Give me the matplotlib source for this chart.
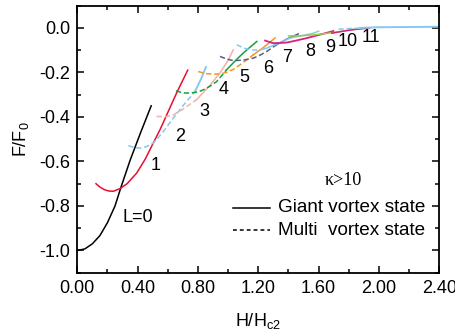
import matplotlib
matplotlib.use("Agg")
import matplotlib.pyplot as plt
from matplotlib.ticker import MultipleLocator, FormatStrFormatter

plt.rcParams['font.family'] = ['Liberation Sans', 'DejaVu Sans']
plt.rcParams['axes.unicode_minus'] = False

# ---- data ----
# L = 0 (giant vortex, black)
l0_x = [0.0, 0.05, 0.10, 0.15, 0.20, 0.25, 0.29, 0.35, 0.42, 0.49]
l0_y = [-1.0, -0.993, -0.97, -0.933, -0.875, -0.80, -0.715, -0.595, -0.47, -0.35]
# L = 1 (red)
l1_x = [0.124, 0.15, 0.18, 0.21, 0.239, 0.283, 0.33, 0.394, 0.45, 0.504, 0.55, 0.60, 0.66, 0.732]
l1_y = [-0.70, -0.715, -0.727, -0.733, -0.734, -0.722, -0.70, -0.652, -0.59, -0.517, -0.455, -0.38, -0.29, -0.19]
# L = 2 (light blue)
l2_mx = [0.338, 0.38, 0.42, 0.46, 0.504, 0.56, 0.637, 0.70, 0.78]
l2_my = [-0.529, -0.538, -0.540, -0.533, -0.517, -0.475, -0.405, -0.35, -0.286]
l2_gx = [0.78, 0.82, 0.853]
l2_gy = [-0.286, -0.23, -0.176]
# L = 3 (pink)
l3_mx = [0.526, 0.593, 0.64, 0.70, 0.79]
l3_my = [-0.398, -0.398, -0.39, -0.365, -0.323]
l3_gx = [0.79, 0.87, 0.946, 1.0, 1.034]
l3_gy = [-0.323, -0.265, -0.203, -0.145, -0.099]
# L = 4 (green)
l4_mx = [0.654, 0.70, 0.747, 0.80, 0.836, 0.88, 0.924, 0.99]
l4_my = [-0.283, -0.292, -0.293, -0.288, -0.278, -0.262, -0.241, -0.188]
l4_gx = [0.99, 1.05, 1.10, 1.19]
l4_gy = [-0.188, -0.146, -0.113, -0.061]
# L = 5 (orange)
l5_mx = [0.802, 0.85, 0.90, 0.95, 0.99, 1.035, 1.079, 1.167]
l5_my = [-0.196, -0.205, -0.208, -0.206, -0.20, -0.186, -0.166, -0.121]
l5_gx = [1.167, 1.24, 1.311]
l5_gy = [-0.121, -0.085, -0.045]
# L = 6 (slate)
l6_mx = [0.946, 0.99, 1.034, 1.10, 1.167, 1.21, 1.256, 1.32]
l6_my = [-0.128, -0.14, -0.147, -0.145, -0.136, -0.123, -0.106, -0.076]
l6_gx = [1.32, 1.39, 1.465]
l6_gy = [-0.076, -0.05, -0.027]
# L = 7 (light blue)
l7_mx = [1.057, 1.11, 1.167, 1.211]
l7_my = [-0.076, -0.092, -0.10, -0.099]
l7_gx = [1.211, 1.256, 1.33, 1.41, 1.49, 1.565, 1.60]
l7_gy = [-0.099, -0.091, -0.07, -0.046, -0.035, -0.024, -0.015]
# L = 8 (magenta)
l8_gx = [1.245, 1.30, 1.388, 1.45, 1.521, 1.60, 1.698]
l8_gy = [-0.057, -0.069, -0.066, -0.057, -0.046, -0.032, -0.014]
# L = 9 (yellow green)
l9_gx = [1.40, 1.465, 1.576, 1.66, 1.742, 1.83]
l9_gy = [-0.036, -0.036, -0.031, -0.024, -0.017, -0.006]
# L = 10 (magenta)
l10_gx = [1.687, 1.75, 1.83, 1.94]
l10_gy = [-0.024, -0.016, -0.008, 0.0]
# L = 11 (light blue)
l11_mx = [1.731, 1.80, 1.875]
l11_my = [-0.006, -0.003, -0.001]
l11_gx = [1.875, 2.0, 2.2, 2.4]
l11_gy = [0.0, 0.003, 0.004, 0.005]

labels = ["1", "2", "3", "4", "5", "6", "7", "8", "9", "10", "11"]
label_x = [0.522, 0.681, 0.84, 0.973, 1.105, 1.264, 1.39, 1.543, 1.675, 1.795, 1.948]
label_y = [-0.62, -0.489, -0.377, -0.278, -0.224, -0.184, -0.135, -0.108, -0.09, -0.063, -0.045]

c_black = "#000000"
c_red = "#e8102e"
c_lblue = "#86c9ef"
c_pink = "#f5b0a8"
c_green = "#16a03c"
c_orange = "#f5961e"
c_slate = "#5b5b88"
c_mag = "#d9207f"
c_yg = "#9ccc3c"

fig = plt.figure(figsize=(4.56, 3.31), dpi=100)
ax = fig.add_axes([0.1695, 0.176, 0.7939, 0.807])

lw = 1.1
dash = (0, (3.5, 1.8))

ax.plot(l0_x, l0_y, color=c_black, lw=lw)
ax.plot(l1_x, l1_y, color=c_red, lw=lw)
ax.plot(l2_mx, l2_my, color=c_lblue, lw=lw, ls=dash)
ax.plot(l2_gx, l2_gy, color=c_lblue, lw=lw + 0.3)
ax.plot(l3_mx, l3_my, color=c_pink, lw=lw, ls=dash)
ax.plot(l3_gx, l3_gy, color=c_pink, lw=lw)
ax.plot(l4_mx, l4_my, color=c_green, lw=lw, ls=dash)
ax.plot(l4_gx, l4_gy, color=c_green, lw=lw)
ax.plot(l5_mx, l5_my, color=c_orange, lw=lw, ls=dash)
ax.plot(l5_gx, l5_gy, color=c_orange, lw=lw)
ax.plot(l6_mx, l6_my, color=c_slate, lw=lw, ls=dash)
ax.plot(l6_gx, l6_gy, color=c_slate, lw=lw)
ax.plot(l7_mx, l7_my, color=c_lblue, lw=lw, ls=dash)
ax.plot(l7_gx, l7_gy, color=c_lblue, lw=lw)
ax.plot(l8_gx, l8_gy, color=c_mag, lw=lw + 0.2)
ax.plot(l9_gx, l9_gy, color=c_yg, lw=lw)
ax.plot(l10_gx, l10_gy, color=c_mag, lw=lw)
ax.plot(l11_mx, l11_my, color=c_lblue, lw=lw, ls=dash)
ax.plot(l11_gx, l11_gy, color=c_lblue, lw=lw + 0.3)

for t, x, y in zip(labels, label_x, label_y):
    ax.text(x, y, t, fontsize=13, ha="center", va="center")
ax.text(0.40, -0.85, "L=0", fontsize=13, ha="center", va="center")

# legend-like annotation
ax.text(1.765, -0.686, "\u03ba>10", fontsize=13, ha="center", va="center",
        family=["Liberation Serif", "DejaVu Serif"])
ax.plot([1.03, 1.28], [-0.807, -0.807], color="black", lw=1.1)
ax.plot([1.03, 1.28], [-0.91, -0.91], color="black", lw=1.1, ls=(0, (2.5, 2)))
ax.text(1.33, -0.807, "Giant vortex state", fontsize=13.6, ha="left", va="center")
ax.text(1.33, -0.91, "Multi  vortex state", fontsize=13.6, ha="left", va="center")

ax.set_xlim(0, 2.4)
ax.set_ylim(-1.1, 0.1)
ax.xaxis.set_major_locator(MultipleLocator(0.4))
ax.xaxis.set_minor_locator(MultipleLocator(0.2))
ax.yaxis.set_major_locator(MultipleLocator(0.2))
ax.yaxis.set_minor_locator(MultipleLocator(0.1))
ax.xaxis.set_major_formatter(FormatStrFormatter("%.2f"))
ax.yaxis.set_major_formatter(FormatStrFormatter("%.1f"))
ax.tick_params(which="both", direction="in", top=True, right=True, labelsize=13, width=1.1)
ax.tick_params(which="major", length=5, pad=5)
ax.tick_params(which="minor", length=3)
for s in ax.spines.values():
    s.set_linewidth(1.3)

ax.set_xlabel("H/H$_{\\mathregular{c2}}$", fontsize=13, labelpad=10)
ax.set_ylabel("F/F$_{\\mathregular{0}}$", fontsize=13, labelpad=6)

fig.savefig("out.png", dpi=100)
